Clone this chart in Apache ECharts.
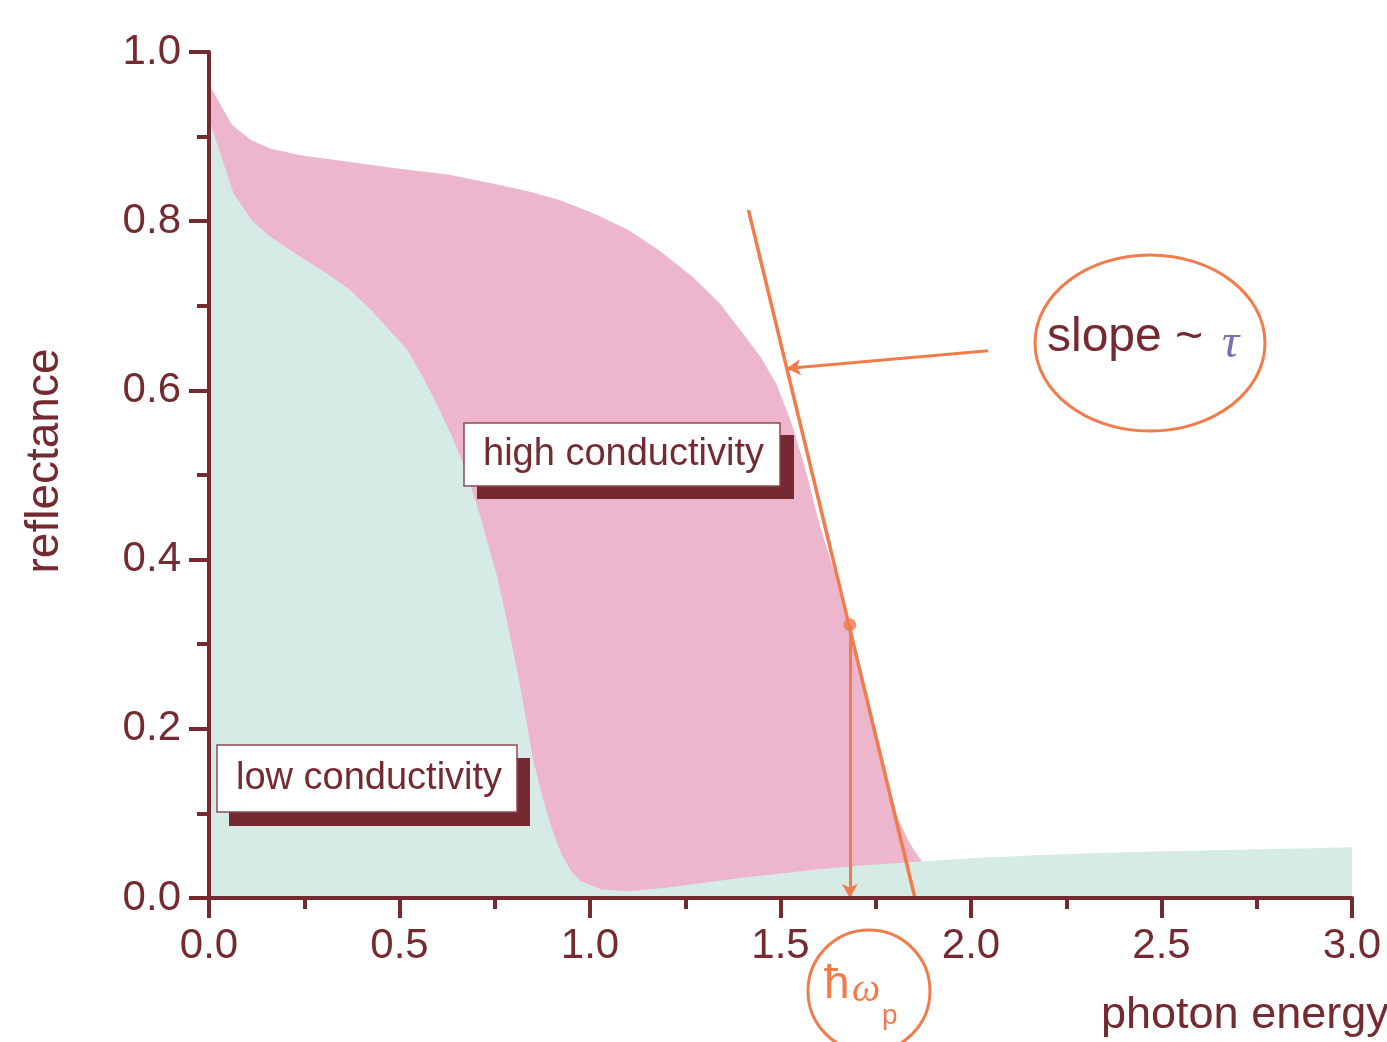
<!DOCTYPE html>
<html>
<head>
<meta charset="utf-8">
<script src="https://cdn.jsdelivr.net/npm/echarts@6/dist/echarts.min.js"></script>
<style>
html,body{margin:0;padding:0;background:#fff;}
#main{width:1387px;height:1042px;}
</style>
</head>
<body>
<div id="main"></div>
<script>
// 高电导率 反射率曲线（粉色）
var highE = [0, 0.06, 0.11, 0.16, 0.24, 0.37, 0.50, 0.63, 0.76, 0.84, 0.92, 1.01, 1.10, 1.18, 1.27, 1.34, 1.40, 1.45, 1.49, 1.53, 1.57, 1.60, 1.64, 1.67, 1.71, 1.74, 1.78, 1.81, 1.84, 1.87];
var highR = [0.962, 0.914, 0.896, 0.886, 0.878, 0.870, 0.862, 0.855, 0.843, 0.835, 0.825, 0.809, 0.790, 0.766, 0.734, 0.703, 0.668, 0.638, 0.607, 0.560, 0.499, 0.445, 0.387, 0.332, 0.262, 0.205, 0.133, 0.092, 0.064, 0.044];

// 低电导率 反射率曲线（浅绿）
var lowE = [0, 0.064, 0.112, 0.16, 0.24, 0.31, 0.37, 0.43, 0.52, 0.56, 0.60, 0.64, 0.675, 0.71, 0.755, 0.78, 0.815, 0.85, 0.875, 0.90, 0.925, 0.95, 0.975, 1.03, 1.10, 1.2, 1.3, 1.4, 1.5, 1.6, 1.7, 1.8, 1.9, 2.0, 2.2, 2.4, 2.6, 2.8, 3.0];
var lowR = [0.921, 0.833, 0.801, 0.782, 0.758, 0.738, 0.719, 0.693, 0.648, 0.617, 0.582, 0.543, 0.505, 0.454, 0.382, 0.332, 0.255, 0.165, 0.120, 0.082, 0.052, 0.032, 0.020, 0.010, 0.008, 0.012, 0.018, 0.024, 0.029, 0.034, 0.038, 0.041, 0.044, 0.047, 0.051, 0.054, 0.056, 0.058, 0.060];

// 切线（slope ~ tau）
var tangentE = [1.416, 1.853];
var tangentR = [0.813, 0.0];

// 等离子体频率点
var plasmaE = 1.682;
var plasmaR = 0.323;

// slope 指示箭头
var slopeArrowFrom = [2.045, 0.647];
var slopeArrowTo = [1.516, 0.626];

var maroon = '#742a30';
var orange = '#ef7c4a';
var pink = '#edb6cd';
var mint = '#d6ebe5';

function pairs(xs, ys) {
    var out = [];
    for (var i = 0; i < xs.length; i++) {
        out.push([xs[i], ys[i]]);
    }
    return out;
}

// 带阴影的标签框
function labelBox(x, y, w, h, dx, dy, text) {
    return {
        type: 'group', x: x, y: y,
        children: [
            {type: 'rect', z: 100, shape: {x: dx, y: dy, width: w + 1, height: h + 1}, style: {fill: maroon}},
            {type: 'rect', z: 101, shape: {x: 0, y: 0, width: w, height: h}, style: {fill: '#fff', stroke: '#8c4a52', lineWidth: 1.5}},
            {type: 'text', z: 102, x: 19, y: h / 2, style: {text: text, fill: maroon, font: '38px "Liberation Sans"', textVerticalAlign: 'middle'}}
        ]
    };
}

var myChart = echarts.init(document.getElementById('main'));

var option = {
    animation: false,
    backgroundColor: '#fff',
    grid: {left: 209, right: 35, top: 52, bottom: 144, outerBoundsMode: 'none'},
    xAxis: {
        type: 'value', min: 0, max: 3, interval: 0.5, z: 10,
        name: 'photon energy',
        nameLocation: 'end',
        nameGap: -251,
        nameTextStyle: {color: maroon, fontSize: 45, fontFamily: 'Liberation Sans', align: 'left', verticalAlign: 'top', padding: [95, 0, 0, 0]},
        axisLine: {lineStyle: {color: maroon, width: 4}},
        axisTick: {length: 20, lineStyle: {color: maroon, width: 4}},
        minorTick: {show: true, splitNumber: 2, length: 11, lineStyle: {color: maroon, width: 4}},
        axisLabel: {color: maroon, fontSize: 42, fontFamily: 'Liberation Sans', margin: 27, formatter: function (v) { return v.toFixed(1); }},
        splitLine: {show: false}
    },
    yAxis: {
        type: 'value', min: 0, max: 1, interval: 0.2, z: 10,
        name: 'reflectance',
        nameLocation: 'middle',
        nameGap: 141,
        nameTextStyle: {color: maroon, fontSize: 46, fontFamily: 'Liberation Sans', padding: [0, 0, 0, 28]},
        axisLine: {lineStyle: {color: maroon, width: 4}},
        axisTick: {length: 20, lineStyle: {color: maroon, width: 4}},
        minorTick: {show: true, splitNumber: 2, length: 12, lineStyle: {color: maroon, width: 4}},
        axisLabel: {color: maroon, fontSize: 42, fontFamily: 'Liberation Sans', margin: 28, formatter: function (v) { return v.toFixed(1); }},
        splitLine: {show: false}
    },
    series: [
        {
            name: 'high conductivity', type: 'line', data: pairs(highE, highR),
            symbol: 'none', lineStyle: {width: 0}, areaStyle: {color: pink, opacity: 1}, z: 2
        },
        {
            name: 'low conductivity', type: 'line', data: pairs(lowE, lowR),
            symbol: 'none', lineStyle: {width: 0}, areaStyle: {color: mint, opacity: 1}, z: 3
        },
        {
            name: 'tangent', type: 'line', data: pairs(tangentE, tangentR),
            symbol: 'none', lineStyle: {color: orange, width: 3.5}, z: 5,
            markLine: {
                silent: true, symbol: ['none', 'arrow'], symbolSize: [12, 14],
                label: {show: false},
                lineStyle: {color: orange, width: 3, type: 'solid'},
                data: [
                    [{coord: slopeArrowFrom}, {coord: slopeArrowTo}],
                    [{coord: [plasmaE, plasmaR]}, {coord: [plasmaE, 0]}]
                ]
            }
        },
        {
            name: 'plasma', type: 'scatter', data: [[plasmaE, plasmaR]],
            symbolSize: 13, itemStyle: {color: orange}, z: 6
        }
    ],
    graphic: [
        labelBox(464, 423, 316, 63, 13, 12, 'high conductivity'),
        labelBox(217, 745, 300, 67, 12, 13, 'low conductivity'),
        {type: 'ellipse', z: 100, shape: {cx: 1150, cy: 343, rx: 115, ry: 88}, style: {fill: 'none', stroke: orange, lineWidth: 3}},
        {type: 'text', z: 100, x: 1047, y: 338, style: {text: 'slope ~', fill: maroon, font: '48px "Liberation Sans"', textVerticalAlign: 'middle'}},
        {type: 'text', z: 100, x: 1222, y: 344, style: {text: 'τ', fill: '#7d6db3', font: 'italic 48px "Liberation Serif"', textVerticalAlign: 'middle'}},
        {type: 'circle', z: 100, shape: {cx: 869, cy: 991, r: 61}, style: {fill: 'none', stroke: orange, lineWidth: 3}},
        {type: 'text', z: 100, x: 824, y: 985, style: {text: 'ħ', fill: orange, font: '46px "Liberation Sans"', textVerticalAlign: 'middle'}},
        {type: 'text', z: 100, x: 852, y: 990, style: {text: 'ω', fill: orange, font: 'italic 40px "Liberation Serif"', textVerticalAlign: 'middle'}},
        {type: 'text', z: 100, x: 882, y: 1016, style: {text: 'p', fill: orange, font: '28px "Liberation Sans"', textVerticalAlign: 'middle'}}
    ]
};

myChart.setOption(option);
</script>
</body>
</html>
